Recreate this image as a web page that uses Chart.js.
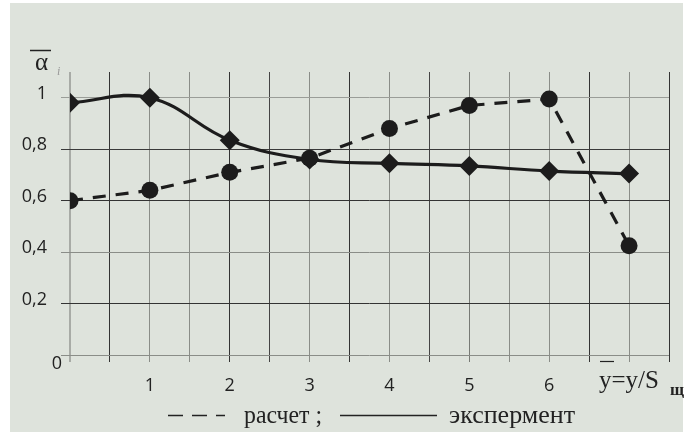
<!DOCTYPE html>
<html>
<head>
<meta charset="utf-8">
<script src="https://cdn.jsdelivr.net/npm/chart.js@4/dist/chart.umd.min.js"></script>
<style>
  html, body { margin: 0; padding: 0; background: #ffffff; }
  #wrap { width: 686px; height: 432px; position: relative; }
</style>
</head>
<body>
<div id="wrap"><canvas id="c"></canvas></div>
<script>
// ---- data ----
const xValues = [0, 1, 2, 3, 4, 5, 6, 7];
const raschet = [0.60, 0.64, 0.71, 0.765, 0.88, 0.97, 0.995, 0.425];      // dashed, circles
const eksperiment = [0.98, 1.0, 0.835, 0.76, 0.745, 0.735, 0.715, 0.705]; // solid, diamonds
const xTickLabels = ['', '', '', '', '1', '', '2', '', '3', '', '4', '', '5', '', '6', '', '', ''];
const yTickLabels = ['0', '0,2', '0,4', '0,6', '0,8', '1'];
const legendLabels = ['расчет ;', 'экспермент'];

const toPts = (ys) => xValues.map((x, i) => ({ x: x, y: ys[i] }));

// grid colors (scan-like alternating darkness)
const vGridColors = ['#a8aba6', '#333333', '#8a8d88', '#8a8d88', '#333333', '#444444', '#8a8d88', '#333333',
                     '#8a8d88', '#444444', '#777a75', '#8a8d88', '#8a8d88', '#333333', '#8a8d88', '#333333'];
const hGridColors = ['#8a8d88', '#333333', '#8a8d88', '#333333', '#3a3a3a', '#9a9d98'];

const decor = {
  id: 'decor',
  beforeDraw(chart) {
    const ctx = chart.ctx;
    ctx.save();
    ctx.fillStyle = '#dee3dc';
    ctx.fillRect(10, 3, 673, 429);
    ctx.restore();
  },
  afterDraw(chart) {
    const ctx = chart.ctx;
    ctx.save();
    ctx.fillStyle = '#222';
    ctx.strokeStyle = '#222';
    // "0" origin label
    ctx.font = '18px "Open Sans"';
    ctx.textAlign = 'center';
    ctx.textBaseline = 'middle';
    ctx.fillText(yTickLabels[0], 57, 364);

    // y-axis title: overline alpha, subscript i
    ctx.font = '25px "Liberation Serif"';
    ctx.textAlign = 'left';
    ctx.textBaseline = 'alphabetic';
    ctx.fillText('α', 35, 70);
    ctx.lineWidth = 1.5;
    ctx.beginPath(); ctx.moveTo(30, 50.5); ctx.lineTo(51, 50.5); ctx.stroke();
    ctx.fillStyle = '#999';
    ctx.font = 'italic 12px "Liberation Serif"';
    ctx.fillText('i', 57, 75);

    // x-axis title: overline y = y/S щ
    ctx.fillStyle = '#222';
    ctx.font = '25px "Liberation Serif"';
    ctx.fillText('y=y/S', 599, 388, 69);
    ctx.lineWidth = 1.2;
    ctx.beginPath(); ctx.moveTo(600, 361.5); ctx.lineTo(614, 361.5); ctx.stroke();
    ctx.font = 'bold 17px "Liberation Serif"';
    ctx.fillText('щ', 670, 395, 14);

    // legend
    const ly = 415.5;
    ctx.lineWidth = 1.6;
    ctx.setLineDash([15, 9]);
    ctx.beginPath(); ctx.moveTo(168, ly); ctx.lineTo(225, ly); ctx.stroke();
    ctx.setLineDash([]);
    ctx.beginPath(); ctx.moveTo(340, ly); ctx.lineTo(437, ly); ctx.stroke();
    ctx.font = '26px "Liberation Serif"';
    ctx.fillText(legendLabels[0], 244, 423, 78);
    ctx.fillText(legendLabels[1], 449, 423, 129);
    ctx.restore();
  }
};

new Chart(document.getElementById('c'), {
  type: 'line',
  data: {
    datasets: [
      {
        label: legendLabels[0],
        data: toPts(raschet),
        borderColor: '#1c1c1c',
        backgroundColor: '#1c1c1c',
        borderWidth: 3.2,
        borderDash: [13, 10],
        tension: 0,
        pointStyle: 'circle',
        pointRadius: 8.5,
        pointBorderWidth: 0,
        pointBackgroundColor: '#1c1c1c'
      },
      {
        label: legendLabels[1],
        data: toPts(eksperiment),
        borderColor: '#1c1c1c',
        backgroundColor: '#1c1c1c',
        borderWidth: 3.2,
        tension: 0.4,
        pointStyle: 'rectRot',
        pointRadius: 10,
        pointBorderWidth: 0,
        pointBackgroundColor: '#1c1c1c'
      }
    ]
  },
  options: {
    responsive: true,
    maintainAspectRatio: false,
    animation: false,
    events: [],
    layout: { padding: { top: 72, right: 17, left: 0, bottom: 0 } },
    plugins: { legend: { display: false }, tooltip: { enabled: false } },
    scales: {
      x: {
        type: 'linear',
        min: 0, max: 7.5,
        afterFit(s) { s.height = 77; },
        border: { display: false },
        grid: {
          color: (c) => vGridColors[c.index % vGridColors.length],
          lineWidth: (c) => c.index === 0 ? 2 : 1,
          tickLength: 7
        },
        ticks: {
          stepSize: 0.5,
          autoSkip: false,
          maxRotation: 0,
          padding: 13,
          color: '#222',
          font: { family: 'Open Sans', size: 18 },
          callback: (v, i) => xTickLabels[i + 2] || ''
        }
      },
      y: {
        min: 0, max: 1.1,
        afterFit(s) { s.width = 70; },
        border: { display: false },
        grid: {
          color: (c) => hGridColors[c.index % hGridColors.length],
          lineWidth: 1,
          tickLength: 9
        },
        ticks: {
          stepSize: 0.2,
          includeBounds: false,
          padding: 14,
          labelOffset: -4,
          color: '#222',
          font: { family: 'Open Sans', size: 18 },
          callback: (v, i) => i === 0 ? '' : yTickLabels[i]
        }
      }
    }
  },
  plugins: [decor]
});
</script>
</body>
</html>
